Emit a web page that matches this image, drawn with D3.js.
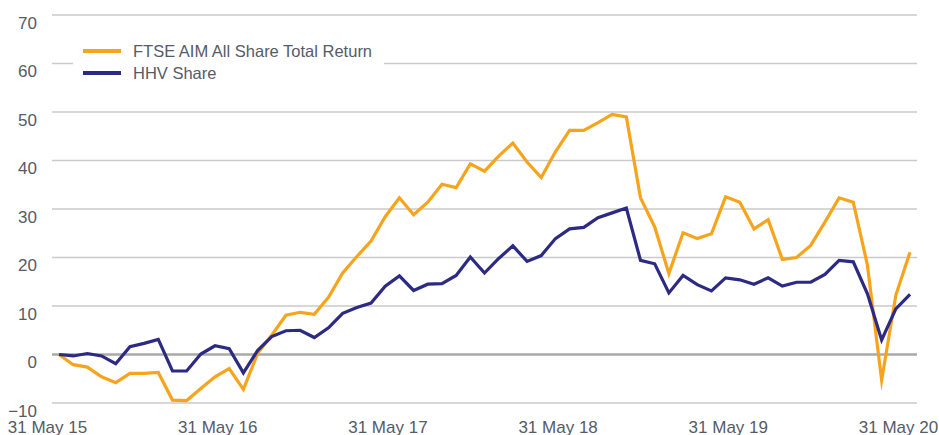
<!DOCTYPE html>
<html>
<head>
<meta charset="utf-8">
<script src="https://cdn.jsdelivr.net/npm/d3@7"></script>
<style>
    body { margin: 0; background: #fff; }
    text { font-family: "Liberation Sans", Arial, sans-serif; fill: #555b67; }
</style>
</head>
<body>
<div id="chart"></div>
<script>
// month-end dates, May 2015 .. May 2020
const months = d3.range(61);

const ftse = [0, -2.1, -2.6, -4.6, -5.8, -3.9, -3.9, -3.7, -9.4, -9.5,
    -7.0, -4.6, -2.9, -7.2, 0.2, 4.0, 8.1, 8.7, 8.3, 11.8,
    16.8, 20.2, 23.4, 28.4, 32.3, 28.8, 31.4, 35.1, 34.4, 39.3,
    37.8, 40.9, 43.6, 39.7, 36.5, 41.8, 46.2, 46.2, 47.8, 49.5,
    49.0, 32.3, 26.3, 16.7, 25.1, 23.9, 24.9, 32.5, 31.4, 25.9,
    27.8, 19.6, 20.0, 22.5, 27.3, 32.3, 31.4, 18.4, -5.3, 12.2,
    21.1];

const hhv = [0, -0.3, 0.2, -0.3, -1.9, 1.6, 2.3, 3.1, -3.4, -3.4,
    0.1, 1.8, 1.2, -3.8, 0.8, 3.7, 4.9, 5.0, 3.5, 5.5,
    8.5, 9.7, 10.6, 14.1, 16.2, 13.2, 14.5, 14.6, 16.3, 20.1,
    16.8, 19.8, 22.4, 19.2, 20.4, 23.9, 25.9, 26.2, 28.2, 29.2,
    30.2, 19.4, 18.7, 12.7, 16.3, 14.4, 13.1, 15.8, 15.4, 14.5,
    15.8, 14.1, 14.9, 14.9, 16.5, 19.4, 19.1, 12.5, 3.0, 9.4,
    12.4];

const seriesNames = ["FTSE AIM All Share Total Return", "HHV Share"];
const tickIndex = [0, 12, 24, 36, 48, 60];
const tickLabels = ["31 May 15", "31 May 16", "31 May 17", "31 May 18", "31 May 19", "31 May 20"];
const yTicks = [-10, 0, 10, 20, 30, 40, 50, 60, 70];

class PerfChart {
    constructor(parentElement) {
        this.parentElement = parentElement;
        this.colors = ['#f7a41d', '#2d2a84'];
    }

    initViz() {
        let vis = this;

        vis.width = 939;
        vis.height = 435;

        vis.svg = d3.select("#" + vis.parentElement).append("svg")
            .attr("width", vis.width)
            .attr("height", vis.height);

        vis.x = d3.scalePoint()
            .domain(months)
            .range([59, 910]);

        vis.y = d3.scaleLinear()
            .domain([-10, 70])
            .range([403, 15]);

        // gridlines
        vis.svg.append("g")
            .selectAll("line")
            .data(yTicks)
            .enter()
            .append("line")
            .attr("x1", 52)
            .attr("x2", 917)
            .attr("y1", d => vis.y(d))
            .attr("y2", d => vis.y(d))
            .attr("stroke", d => d === 0 ? "#a9a9a9" : "#cacaca")
            .attr("stroke-width", d => d === 0 ? 2.5 : 1.3);

        // y axis labels
        vis.yAxis = d3.axisLeft(vis.y)
            .tickValues(yTicks)
            .tickSize(0)
            .tickPadding(0);

        vis.svg.append("g")
            .attr("transform", "translate(37,0)")
            .call(vis.yAxis)
            .call(g => g.select(".domain").remove())
            .selectAll("text")
            .attr("y", 8)
            .style("font-size", "17px")
            .style("fill", "#555b67");

        // x axis labels
        vis.xAxis = d3.axisBottom(vis.x)
            .tickValues(tickIndex)
            .tickFormat((d, i) => tickLabels[i])
            .tickSize(0)
            .tickPadding(0);

        vis.svg.append("g")
            .attr("transform", "translate(-12,420)")
            .call(vis.xAxis)
            .call(g => g.select(".domain").remove())
            .selectAll("text")
            .attr("dy", "0.75em")
            .style("font-size", "17px")
            .style("fill", "#555b67");

        // lines
        vis.line = d3.line()
            .x((d, i) => vis.x(months[i]))
            .y(d => vis.y(d));

        vis.svg.selectAll(".series")
            .data([ftse, hhv])
            .enter()
            .append("path")
            .attr("class", "series")
            .attr("d", d => vis.line(d))
            .style("fill", "none")
            .attr("stroke", (d, i) => vis.colors[i])
            .attr("stroke-width", 3.2)
            .attr("stroke-miterlimit", 10);

        // legend
        vis.svg.append("rect")
            .attr("x", 73)
            .attr("y", 38)
            .attr("width", 311)
            .attr("height", 48)
            .attr("fill", "#fff");

        let legend = vis.svg.selectAll(".legend")
            .data(seriesNames)
            .enter()
            .append("g")
            .attr("class", "legend")
            .attr("transform", (d, i) => "translate(83," + (51 + i * 22) + ")");

        legend.append("line")
            .attr("x1", 0)
            .attr("x2", 38)
            .attr("stroke", (d, i) => vis.colors[i])
            .attr("stroke-width", 4);

        legend.append("text")
            .attr("x", 50)
            .attr("dy", "0.35em")
            .style("font-size", "16.5px")
            .text(d => d);
    }
}

let chart = new PerfChart("chart");
chart.initViz();
</script>
</body>
</html>
